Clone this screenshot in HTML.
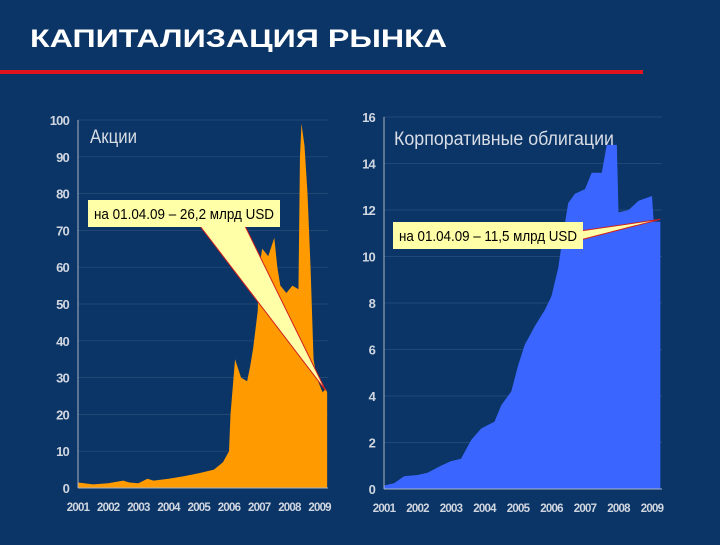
<!DOCTYPE html>
<html><head><meta charset="utf-8"><style>
body{margin:0;width:720px;height:540px;background:#0b3566;overflow:hidden;font-family:"Liberation Sans",sans-serif}
</style></head><body>
<svg width="720" height="540">
<rect width="720" height="540" fill="#0b3566"/>
<text x="30" y="47" fill="#fff" font-size="25" font-weight="bold" textLength="417" lengthAdjust="spacingAndGlyphs">КАПИТАЛИЗАЦИЯ РЫНКА</text>
<rect x="0" y="70" width="643" height="4" fill="#e0141e"/>
<g id="left"></g><g id="right"></g>
</svg>
<script>
const stockYears=[2001,2001.5,2002,2002.5,2002.7,2003,2003.3,2003.5,2004,2004.5,2005,2005.5,2005.8,2006,2006.05,2006.2,2006.4,2006.6,2006.7,2006.8,2006.95,2007,2007.1,2007.3,2007.5,2007.6,2007.7,2007.9,2008.1,2008.3,2008.35,2008.4,2008.5,2008.6,2008.7,2008.8,2008.9,2009,2009.1,2009.2,2009.25];
const stockValues=[1.5,1,1.3,2,1.5,1.3,2.5,2,2.5,3.2,4,5,7,10,20,35,30,29,33,38,48,60,65,63,68,60,55,53,55,54,90,99,93,80,60,35,30,28,26,27,26];
const stockTicks=[0,10,20,30,40,50,60,70,80,90,100];
const bondYears=[2001,2001.3,2001.6,2002,2002.3,2002.7,2003,2003.3,2003.6,2003.9,2004.3,2004.5,2004.8,2005,2005.2,2005.5,2005.8,2006,2006.2,2006.35,2006.5,2006.7,2007,2007.2,2007.5,2007.65,2007.95,2008,2008.3,2008.6,2009,2009.05,2009.25];
const bondValues=[0.15,0.25,0.55,0.6,0.7,1,1.2,1.3,2.1,2.6,2.9,3.6,4.2,5.3,6.2,7,7.7,8.3,9.5,11,12.3,12.7,12.9,13.6,13.6,14.8,14.8,11.9,12,12.4,12.6,11.5,11.5];
const bondTicks=[0,2,4,6,8,10,12,14,16];
const yearLabels=[2001,2002,2003,2004,2005,2006,2007,2008,2009];
const NS='http://www.w3.org/2000/svg';
function mk(p,t,a){const e=document.createElementNS(NS,t);for(const k in a)e.setAttribute(k,a[k]);p.appendChild(e);return e;}
function chart(g,o){
 const x=v=>o.x0+(v-2001)*o.xs, y=v=>o.y0-(v/o.max)*(o.y0-o.y1);
 o.ticks.forEach(t=>{
  const l=mk(g,'line',{x1:o.x0,x2:o.xr,y1:y(t),y2:y(t),stroke:'#2a4f7c','stroke-width':0.7});
  
  const tx=mk(g,'text',{x:o.x0-9,y:y(t)+5,fill:'#d0d6e0','font-size':13,'font-weight':'bold','text-anchor':'end','letter-spacing':'-0.8'});
  tx.textContent=t;
 });
 let d='M'+x(o.xs2[0])+','+y(0);
 for(let i=0;i<o.xs2.length;i++){d+='L'+x(o.xs2[i])+','+y(o.vals[i]);}
 d+='L'+x(o.xs2[o.xs2.length-1])+','+y(0)+'Z';
 const a=mk(g,'path',{d:d,fill:o.color});
 const ax=mk(g,'line',{x1:o.x0,x2:o.x0,y1:o.y1,y2:o.y0,stroke:'#aab4c4'});
 const bx=mk(g,'line',{x1:o.x0,x2:o.xr,y1:o.y0,y2:o.y0,stroke:'#aab4c4'});
 yearLabels.forEach(yr=>{
  const t=mk(g,'text',{x:x(yr),y:o.y0+23,fill:'#d0d6e0','font-size':11.5,'font-weight':'bold','text-anchor':'middle','letter-spacing':'-0.8'});
  t.textContent=yr;
 });
 const ti=mk(g,'text',{x:o.tx,y:o.ty,fill:'#d8dde6','font-size':19,textLength:o.tw,lengthAdjust:'spacingAndGlyphs'});ti.textContent=o.title;
 
 const px=x(o.ptY),py=y(o.ptV);
 const pt=mk(g,'polygon',{points:o.tri(px,py),fill:'#ffffa8',stroke:'#d02020','stroke-width':1});
 
 const b=mk(g,'rect',{x:o.bx,y:o.by,width:o.bw,height:27,fill:'#ffffa8'});
 const bt=mk(g,'text',{x:o.bx+o.bw/2,y:o.by+19,fill:'#000','font-size':15,'text-anchor':'middle',textLength:o.bw-12,lengthAdjust:'spacingAndGlyphs'});bt.textContent=o.note;
 
}
chart(document.getElementById('left'),{x0:78,xs:30.2,xr:328,y0:488,y1:120,max:100,ticks:stockTicks,xs2:stockYears,vals:stockValues,color:'#ff9a00',title:'Акции',tw:47,tx:90,ty:143,ptY:2009.2,ptV:26.5,
 tri:(px,py)=>`200,226 ${px},${py} 245,226`,bx:88,by:200,bw:192,note:'на 01.04.09 – 26,2 млрд USD'});
chart(document.getElementById('right'),{x0:384,xs:33.5,xr:662,y0:489,y1:117,max:16,ticks:bondTicks,xs2:bondYears,vals:bondValues,color:'#3a66ff',title:'Корпоративные облигации',tw:220,tx:394,ty:145,ptY:2009.25,ptV:11.6,
 tri:(px,py)=>`580,231 ${px},${py} 580,240`,bx:393,by:222,bw:190,note:'на 01.04.09 – 11,5 млрд USD'});
</script>
</body></html>
